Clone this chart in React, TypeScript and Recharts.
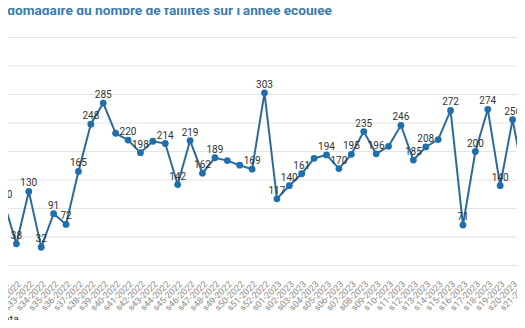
import React from "react";
import { LineChart, Line, XAxis, YAxis, CartesianGrid, LabelList } from "recharts";

// semaines affichées (le début de l'année est hors cadre)
const weeks = [
  "s31-2022", "s32-2022", "s33-2022", "s34-2022", "s35-2022", "s36-2022", "s37-2022",
  "s38-2022", "s39-2022", "s40-2022", "s41-2022", "s42-2022", "s43-2022", "s44-2022",
  "s45-2022", "s46-2022", "s47-2022", "s48-2022", "s49-2022", "s50-2022", "s51-2022",
  "s52-2022", "s01-2023", "s02-2023", "s03-2023", "s04-2023", "s05-2023", "s06-2023",
  "s07-2023", "s08-2023", "s09-2023", "s10-2023", "s11-2023", "s12-2023", "s13-2023",
  "s14-2023", "s15-2023", "s16-2023", "s17-2023", "s18-2023", "s19-2023", "s20-2023",
  "s21-2023",
];

const faillites = [
  110, 38, 130, 32, 91, 72, 165, 248, 285, 232, 220, 198, 218, 214, 142, 219, 162, 189,
  184, 176, 169, 303, 117, 140, 161, 188, 194, 170, 195, 235, 196, 209, 246, 185, 208,
  221, 272, 71, 200, 274, 140, 256, 142,
];

// semaines dont l'étiquette est masquée (chevauchement)
const unlabeled = ["s40-2022", "s43-2022", "s49-2022", "s50-2022", "s04-2023", "s10-2023", "s14-2023"];

const yTicks = [0, 50, 100, 150, 200, 250, 300, 350, 400];

const title = "Évolution hebdomadaire du nombre de faillites sur l’année écoulée";

const data = weeks.map((w, i) => ({
  week: w,
  count: faillites[i],
  label: unlabeled.includes(w) ? null : faillites[i],
}));

const WeekTick = (props: any) => {
  const { x, y, payload } = props;
  return (
    <g transform={`translate(${x + 3},${y + 9})`}>
      <text
        x={0}
        y={0}
        dy="0.35em"
        textAnchor="end"
        transform="rotate(-45)"
        fontSize={9}
        fill="#8a8a8a"
      >
        {payload.value}
      </text>
    </g>
  );
};

const PointLabel = (props: any) => {
  const { x, y, value } = props;
  if (value == null) return null;
  return (
    <text x={x} y={y - 5} textAnchor="middle" fontSize={10} fill="#333333">
      {value}
    </text>
  );
};

export default function App() {
  return (
    <div
      style={{
        position: "relative",
        width: 525,
        height: 328,
        margin: -8,
        overflow: "hidden",
        background: "#ffffff",
        fontFamily: "Roboto, 'Noto Sans', sans-serif",
      }}
    >
      <div
        style={{
          position: "absolute",
          right: 525 - 332,
          top: 2,
          whiteSpace: "nowrap",
          fontSize: 13.7,
          lineHeight: "16px",
          fontWeight: 700,
          color: "#3a7bb0",
        }}
      >
        {title}
      </div>

      <div style={{ position: "absolute", left: -40, top: 0 }}>
        <LineChart
          width={585}
          height={320.5}
          data={data}
          margin={{ top: 37.5, right: 20, left: 0, bottom: 0 }}
        >
          <CartesianGrid vertical={false} stroke="#e3e3e3" />
          <XAxis
            dataKey="week"
            interval={0}
            height={55}
            padding={{ left: 44, right: 0 }}
            tickLine={false}
            axisLine={false}
            tick={<WeekTick />}
          />
          <YAxis hide domain={[0, 400]} ticks={yTicks} />
          <Line
            type="linear"
            dataKey="count"
            stroke="#2c6a9c"
            strokeWidth={2}
            dot={{ r: 3.4, fill: "#1f6fae", stroke: "#1f6fae", strokeWidth: 0 }}
            isAnimationActive={false}
          >
            <LabelList dataKey="label" content={<PointLabel />} />
          </Line>
        </LineChart>
      </div>

      <div
        style={{
          position: "absolute",
          right: 525 - 19,
          top: 313,
          whiteSpace: "nowrap",
          fontSize: 11,
          lineHeight: "13px",
          color: "#333333",
        }}
      >
        Get the data
      </div>
    </div>
  );
}
